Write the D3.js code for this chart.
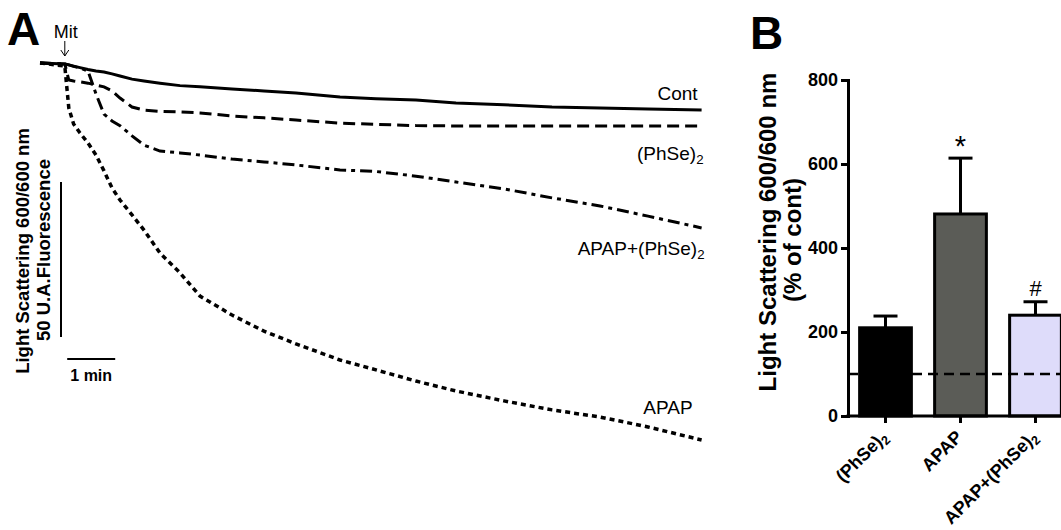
<html>
<head>
<meta charset="utf-8">
<title>Light scattering</title>
<script src="https://cdn.jsdelivr.net/npm/d3@7"></script>
<style>
  body { margin: 0; background: #fff; }
  svg { font-family: Arial, "Liberation Sans", sans-serif; }
</style>
</head>
<body>
<svg width="1061" height="530"></svg>
<script>
'use strict';

// ---- panel A: swelling traces ----
// time (s) from start of recording, mitochondria added at 31 s
let timeSec = [0, 31, 36, 42, 50, 60, 70, 80, 90, 100, 115, 130, 150, 175, 200,
  240, 280, 320, 375, 420, 470, 520, 580, 640, 700, 760, 827];
// change in light scattering (U.A.)
let contVals = [0, -0.3, -0.6, -1.0, -1.5, -2.1, -2.6, -2.9, -3.5, -4.2, -5.2, -5.8, -6.5,
  -7.3, -7.7, -8.4, -9.0, -9.7, -11.0, -11.5, -11.9, -12.9, -13.5, -14.2, -14.5, -14.8, -15.2];
let phseVals = [0, -0.3, -5.5, -5.8, -6.1, -6.5, -7.1, -7.7, -9.0, -11.3, -14.2, -15.2, -15.6,
  -15.8, -16.1, -17.1, -17.7, -18.4, -19.4, -19.8, -20.2, -20.3, -20.3, -20.3, -20.3, -20.3, -20.3];
let apapPhseVals = [0, -0.3, -0.6, -1.1, -1.6, -2.6, -10.0, -16.5, -18.7, -20.2, -23.5, -26.5, -28.4,
  -29.0, -29.7, -31.0, -31.9, -32.9, -34.5, -35.0, -36.5, -38.4, -40.6, -43.5, -46.1, -49.4, -53.2];
let apapVals = [0, -1.0, -14.5, -19.7, -22.6, -25.8, -29.7, -34.8, -40.3, -44.2, -49.0, -53.9, -61.3,
  -67.7, -75.2, -81.3, -86.5, -90.6, -95.8, -99.0, -102.6, -105.8, -109.0, -111.9, -114.2, -117.4, -121.6];
let traceNames = ['Cont', '(PhSe)2', 'APAP+(PhSe)2', 'APAP'];
let mitTime = 31;

// ---- panel B: bar chart ----
let groups = ['(PhSe)2', 'APAP', 'APAP+(PhSe)2'];
let means = [210, 481, 240];
let sems = [28, 133, 32];
let signif = ['', '*', '#'];
let yTicks = [0, 200, 400, 600, 800];
let controlLevel = 100;

let svg = d3.select('svg');

// writes "xxx(PhSe)2" with the 2 as a subscript
function labelText(sel, name) {
  if (name.endsWith(')2')) {
    sel.append('tspan').text(name.slice(0, -1));
    sel.append('tspan').text('2').attr('font-size', '0.7em').attr('dy', '0.3em');
  } else {
    sel.text(name);
  }
}

// ================= panel A =================
let x = d3.scaleLinear().domain([0, 827]).range([40, 701.6]);
let y = d3.scaleLinear().domain([-125, 0]).range([450.5, 63]);

let series = [contVals, phseVals, apapPhseVals, apapVals];
let dashes = [null, '12,6', '12,5,4,5', '5,4'];
let widths = [3, 3, 3, 3.5];
let labelDx = [-4, 2, 3, -9];
let labelDy = [-10, 34, 27, -26];

let line = d3.line()
  .x(function (d, i) { return x(timeSec[i]); })
  .y(function (d) { return y(d); });

svg.selectAll('path.trace')
  .data(series)
  .enter()
  .append('path')
  .attr('class', 'trace')
  .attr('d', line)
  .attr('fill', 'none')
  .attr('stroke', '#000')
  .attr('stroke-width', function (d, i) { return widths[i]; })
  .attr('stroke-dasharray', function (d, i) { return dashes[i]; });

// trace labels at the right end
series.forEach(function (vals, i) {
  let t = svg.append('text')
    .attr('x', x(timeSec[timeSec.length - 1]) + labelDx[i])
    .attr('y', y(vals[vals.length - 1]) + labelDy[i])
    .attr('text-anchor', 'end')
    .attr('font-size', 19);
  labelText(t, traceNames[i]);
});

// Mit arrow
svg.append('text').attr('x', x(mitTime) - 11).attr('y', 38)
  .attr('font-size', 18).text('Mit');
svg.append('line')
  .attr('x1', x(mitTime)).attr('x2', x(mitTime))
  .attr('y1', 41).attr('y2', 56)
  .attr('stroke', '#000').attr('stroke-width', 1);
svg.append('path')
  .attr('d', 'M' + (x(mitTime) - 4) + ',50 L' + x(mitTime) + ',56 L' + (x(mitTime) + 4) + ',50')
  .attr('fill', 'none').attr('stroke', '#000').attr('stroke-width', 1);

// scale bars: 50 U.A. vertical and 1 min horizontal
svg.append('line')
  .attr('x1', 61).attr('x2', 61)
  .attr('y1', y(-38.4)).attr('y2', y(-88.4))
  .attr('stroke', '#000').attr('stroke-width', 2);
svg.append('line')
  .attr('x1', x(34)).attr('x2', x(94))
  .attr('y1', 359).attr('y2', 359)
  .attr('stroke', '#000').attr('stroke-width', 2);
svg.append('text')
  .attr('x', (x(34) + x(94)) / 2).attr('y', 381)
  .attr('text-anchor', 'middle')
  .attr('font-size', 16).attr('font-weight', 'bold')
  .text('1 min');

svg.append('text')
  .attr('transform', 'translate(29,251) rotate(-90)')
  .attr('text-anchor', 'middle')
  .attr('font-size', 18.5).attr('font-weight', 'bold')
  .text('Light Scattering 600/600 nm');
svg.append('text')
  .attr('transform', 'translate(50,250) rotate(-90)')
  .attr('text-anchor', 'middle')
  .attr('font-size', 18.5).attr('font-weight', 'bold')
  .text('50 U.A.Fluorescence');

svg.append('text').attr('x', 7).attr('y', 45)
  .attr('font-size', 46).attr('font-weight', 'bold').text('A');

// ================= panel B =================
let yb = d3.scaleLinear().domain([0, 800]).range([416, 80]);
let xb = d3.scaleBand().domain(groups).range([848, 1073])
  .paddingInner(0.31).paddingOuter(0.155);
let fills = ['#000000', '#5b5c57', '#dedcfa'];

let gy = svg.append('g').attr('transform', 'translate(848,0)')
  .call(d3.axisLeft(yb).tickValues(yTicks).tickSize(7).tickPadding(3));
gy.select('.domain').attr('stroke-width', 3);
gy.selectAll('.tick line').attr('stroke-width', 3);
gy.selectAll('.tick text').attr('font-size', 18).attr('font-weight', 'bold')
  .attr('font-family', 'Arial, "Liberation Sans", sans-serif').attr('fill', '#000');

// bars
svg.selectAll('rect.bar')
  .data(means)
  .enter()
  .append('rect')
  .attr('class', 'bar')
  .attr('x', function (d, i) { return xb(groups[i]); })
  .attr('width', xb.bandwidth())
  .attr('y', function (d) { return yb(d); })
  .attr('height', function (d) { return yb(0) - yb(d); })
  .attr('fill', function (d, i) { return fills[i]; })
  .attr('stroke', '#000')
  .attr('stroke-width', 3);

// error bars (upper only)
means.forEach(function (m, i) {
  let cx = xb(groups[i]) + xb.bandwidth() / 2;
  svg.append('line')
    .attr('x1', cx).attr('x2', cx)
    .attr('y1', yb(m)).attr('y2', yb(m + sems[i]))
    .attr('stroke', '#000').attr('stroke-width', 3);
  svg.append('line')
    .attr('x1', cx - 12).attr('x2', cx + 12)
    .attr('y1', yb(m + sems[i])).attr('y2', yb(m + sems[i]))
    .attr('stroke', '#000').attr('stroke-width', 3);
  if (signif[i]) {
    svg.append('text')
      .attr('x', cx).attr('y', yb(m + sems[i]) - (signif[i] === '*' ? 2 : 6))
      .attr('text-anchor', 'middle')
      .attr('font-size', signif[i] === '*' ? 29 : 22)
      .text(signif[i]);
  }
});

// control level line (100 %)
svg.append('line')
  .attr('x1', 848).attr('x2', 1061)
  .attr('y1', yb(controlLevel)).attr('y2', yb(controlLevel))
  .attr('stroke', '#000').attr('stroke-width', 2.5)
  .attr('stroke-dasharray', '10,6');

// x axis
let gx = svg.append('g').attr('transform', 'translate(0,' + yb(0) + ')')
  .call(d3.axisBottom(xb).tickSize(7).tickSizeOuter(0).tickFormat(''));
gx.select('.domain').attr('d', 'M846.5,0H1061').attr('stroke-width', 3);
gx.selectAll('.tick line').attr('stroke-width', 3);

groups.forEach(function (g) {
  let cx = xb(g) + xb.bandwidth() / 2;
  let t = svg.append('text')
    .attr('transform', 'translate(' + (cx + 3) + ',' + (yb(0) + 22) + ') rotate(-45)')
    .attr('text-anchor', 'end')
    .attr('font-size', 18).attr('font-weight', 'bold');
  labelText(t, g);
});

svg.append('text')
  .attr('transform', 'translate(776,232) rotate(-90)')
  .attr('text-anchor', 'middle')
  .attr('font-size', 24).attr('font-weight', 'bold')
  .text('Light Scattering 600/600 nm');
svg.append('text')
  .attr('transform', 'translate(801,240) rotate(-90)')
  .attr('text-anchor', 'middle')
  .attr('font-size', 24).attr('font-weight', 'bold')
  .text('(% of cont)');

svg.append('text').attr('x', 750).attr('y', 49)
  .attr('font-size', 46).attr('font-weight', 'bold').text('B');
</script>
</body>
</html>
